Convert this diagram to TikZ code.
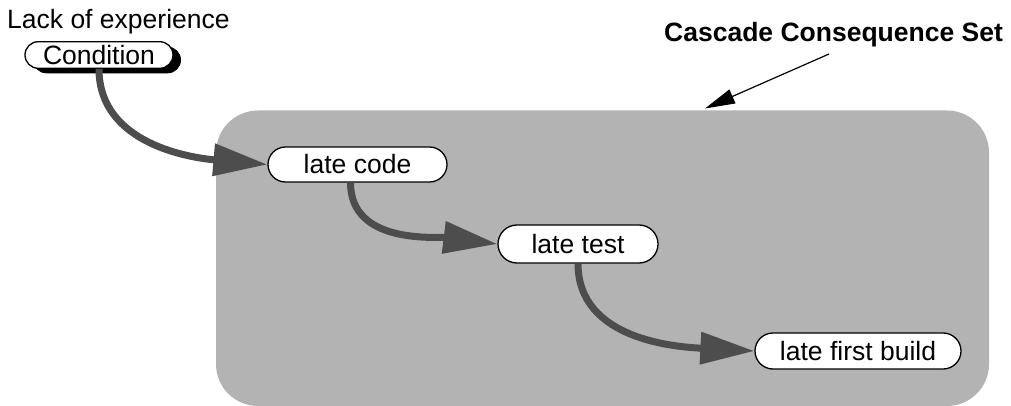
\documentclass[tikz,border=0pt]{standalone}
\usepackage{fontspec}
\setmainfont{Liberation Sans}
\usetikzlibrary{arrows.meta,shapes.misc,shadows}

\definecolor{setgray}{HTML}{B3B3B3}
\definecolor{flowgray}{HTML}{4D4D4D}

\tikzset{
  pill/.style={rounded rectangle, draw=black, line width=1.3pt, fill=white,
    inner sep=0pt, font=\fontsize{26.5}{30}\selectfont},
  flow/.style={draw=flowgray, line width=7pt,
    -{Triangle[length=54pt,width=31pt,fill=flowgray]}},
  callout/.style={draw=black, line width=1.2pt,
    -{Triangle[length=30pt,width=15pt]}},
  caption/.style={inner sep=0pt, anchor=base west}
}

\begin{document}
\begin{tikzpicture}[x=1pt,y=1pt]
  \useasboundingbox (0,0) rectangle (1011,-406);

  % consequence set region
  \fill[setgray, rounded corners=42pt] (216,-110.5) rectangle (989,-406);

  % captions
  \node[caption, font=\fontsize{26.5}{30}\selectfont] (lack) at (7,-29) {Lack of experience};
  \node[caption, font=\fontsize{26.5}{30}\selectfont\bfseries] (cset) at (664,-42) {Cascade Consequence Set};

  % condition and consequences
  \node[pill, minimum width=148pt, minimum height=26.6pt,
        drop shadow={shadow xshift=8pt, shadow yshift=-5pt, fill=black, opacity=1}]
        (cond) at (99,-55) {Condition};
  \node[pill, minimum width=179pt, minimum height=35pt] (code) at (357.5,-164.5) {late code};
  \node[pill, minimum width=160pt, minimum height=38pt] (test) at (578,-244) {late test};
  \node[pill, minimum width=206pt, minimum height=36pt] (build) at (858,-351) {late first build};

  % cascade connectors
  \draw[flow] (cond.south) to[out=-90, in=175] (code.west);
  \draw[flow] ([xshift=-7pt]code.south) to[out=-90, in=173] (test.west);
  \draw[flow] (test.south) to[out=-90, in=177] (build.west);

  % callout pointing at the set
  \coordinate (cfrom) at (829,-54);
  \coordinate (cto) at (705,-108.5);
  \draw[callout] (cfrom) -- (cto);
\end{tikzpicture}
\end{document}
